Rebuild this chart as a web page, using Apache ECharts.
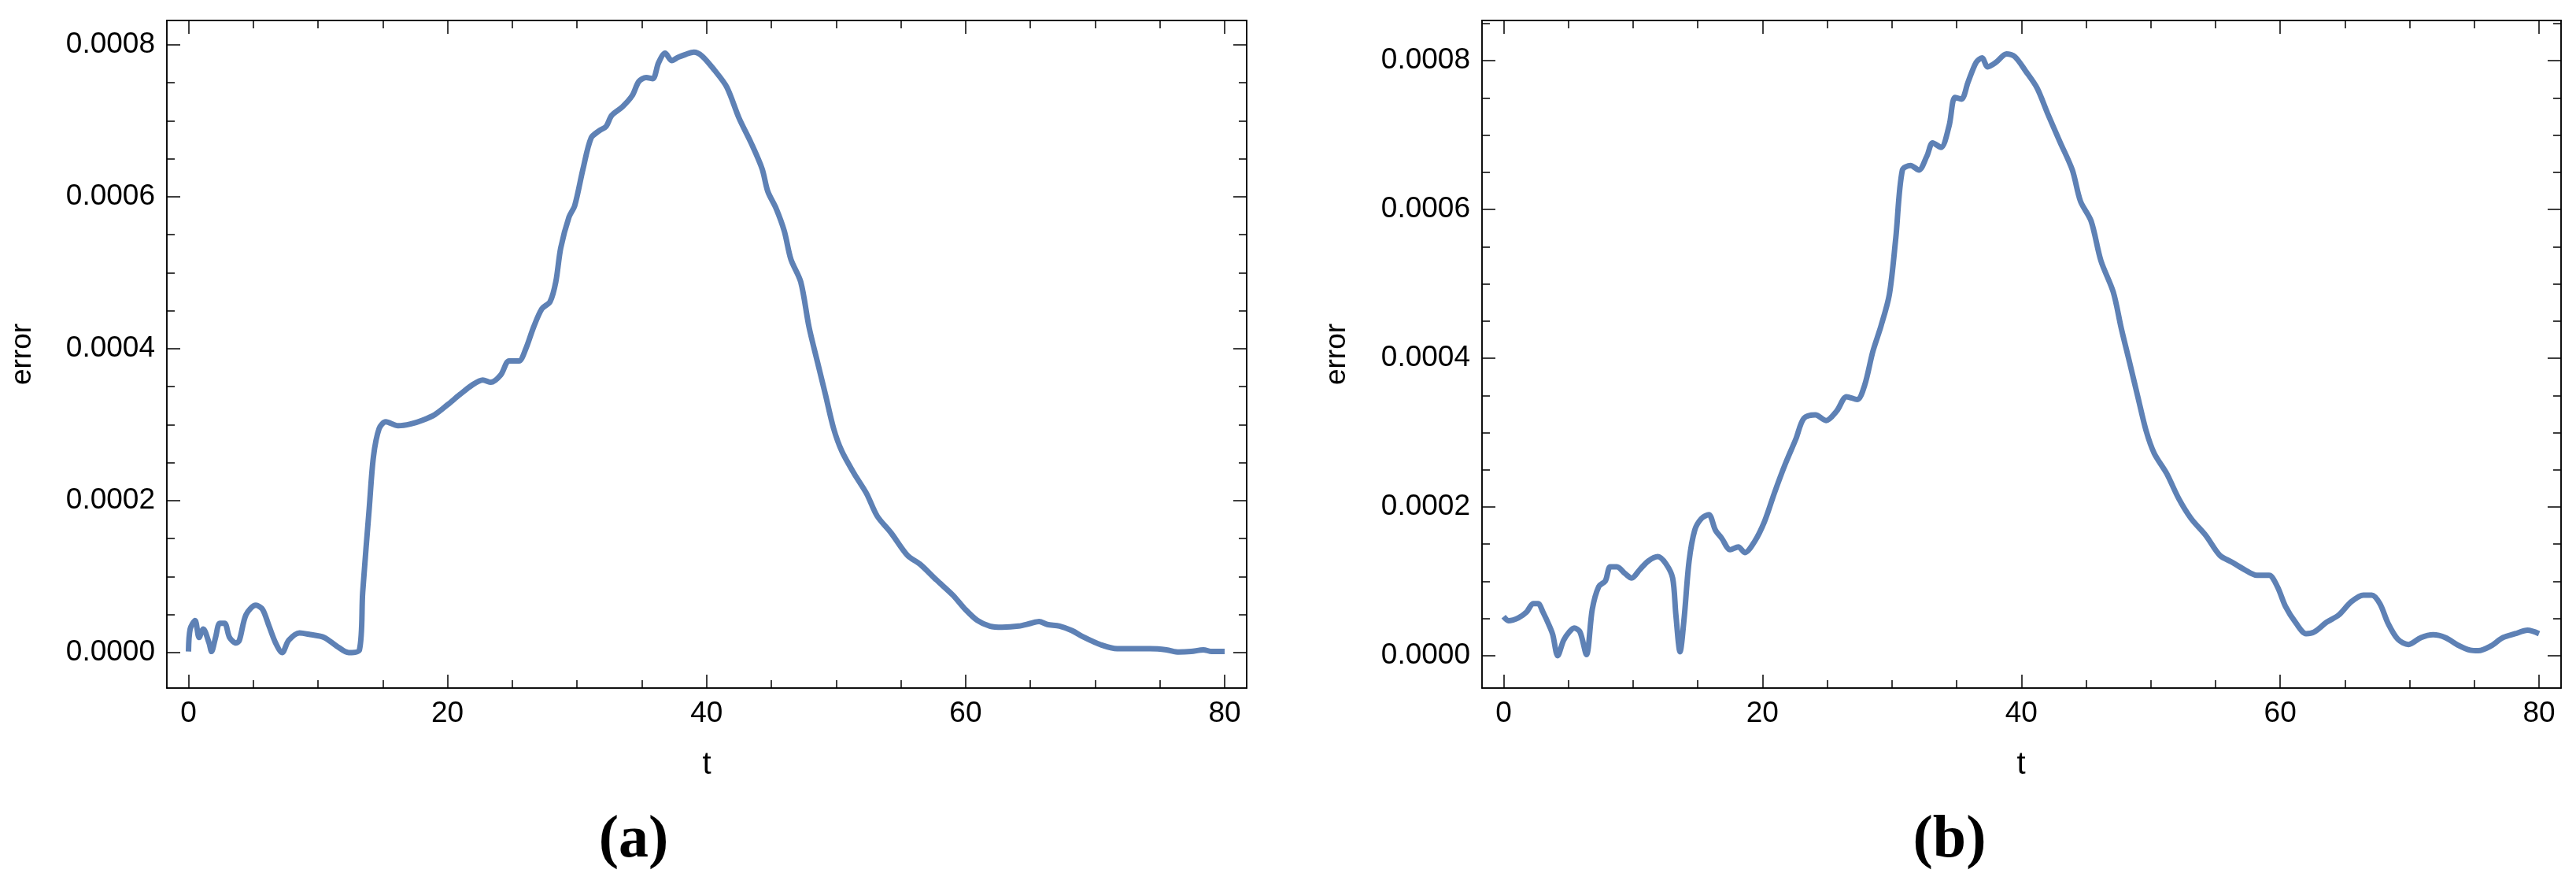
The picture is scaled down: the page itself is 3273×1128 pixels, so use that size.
<!DOCTYPE html>
<html><head><meta charset="utf-8">
<script src="https://cdn.jsdelivr.net/npm/echarts@6/dist/echarts.min.js"></script>
<style>html,body{margin:0;padding:0;background:#fff}#c{width:3273px;height:1128px}</style>
</head><body><div id="c"></div>
<script>
const tA = [0,0.13,0.51,0.82,1.14,1.59,1.78,2.09,2.41,2.79,3.17,3.68,3.93,4.44,5.20,5.71,6.22,6.73,7.23,7.74,8.57,9.39,10.47,11.42,12.37,13.20,13.45,13.96,14.28,14.72,15.23,16.18,17.13,18.08,19.04,19.99,20.94,21.89,22.72,23.35,24.11,24.75,25.51,26.02,26.65,27.28,27.92,28.36,28.74,29.38,29.82,30.46,31.09,31.73,32.23,32.68,33.50,34.26,34.77,35.34,35.85,36.29,36.80,37.31,37.82,38.39,39.02,39.66,40.61,41.56,42.51,43.46,44.29,44.73,45.37,46.00,46.51,47.27,47.91,48.54,49.18,49.81,50.44,51.40,52.35,53.17,54.25,55.52,56.47,57.74,59.01,59.96,60.91,61.87,62.82,64.09,65.04,65.67,66.31,67.26,68.21,69.16,70.43,71.70,72.97,74.24,75.51,76.46,77.41,78.36,79.0,80.0];
const errA = [0.015e-4,0.312e-4,0.423e-4,0.20e-4,0.312e-4,0.126e-4,0.015e-4,0.20e-4,0.386e-4,0.386e-4,0.20e-4,0.126e-4,0.163e-4,0.498e-4,0.624e-4,0.572e-4,0.349e-4,0.126e-4,0,0.163e-4,0.26e-4,0.238e-4,0.20e-4,0.089e-4,0,0.037e-4,0.795e-4,1.909e-4,2.578e-4,2.949e-4,3.038e-4,2.986e-4,3.008e-4,3.060e-4,3.135e-4,3.261e-4,3.395e-4,3.521e-4,3.588e-4,3.558e-4,3.655e-4,3.840e-4,3.840e-4,3.989e-4,4.286e-4,4.524e-4,4.620e-4,4.880e-4,5.326e-4,5.734e-4,5.883e-4,6.366e-4,6.774e-4,6.871e-4,6.923e-4,7.071e-4,7.183e-4,7.331e-4,7.517e-4,7.569e-4,7.554e-4,7.762e-4,7.889e-4,7.792e-4,7.837e-4,7.874e-4,7.903e-4,7.851e-4,7.666e-4,7.443e-4,7.034e-4,6.700e-4,6.366e-4,6.069e-4,5.846e-4,5.549e-4,5.177e-4,4.880e-4,4.286e-4,3.840e-4,3.395e-4,2.949e-4,2.652e-4,2.355e-4,2.095e-4,1.798e-4,1.575e-4,1.278e-4,1.166e-4,0.958e-4,0.758e-4,0.572e-4,0.423e-4,0.349e-4,0.334e-4,0.349e-4,0.386e-4,0.409e-4,0.371e-4,0.349e-4,0.290e-4,0.20e-4,0.104e-4,0.052e-4,0.052e-4,0.052e-4,0.037e-4,0.007e-4,0.015e-4,0.037e-4,0.015e-4,0.015e-4];
const tB = [0,0.38,1.14,1.77,2.28,2.66,3.04,3.55,3.80,4.18,4.63,5.07,5.45,5.90,6.40,6.85,7.35,7.86,8.24,8.75,9.38,9.89,10.52,11.16,11.92,12.55,13.06,13.31,13.63,13.95,14.33,14.77,15.28,15.85,16.36,16.86,17.50,18.13,18.64,19.40,20.16,20.92,21.74,22.57,23.20,24.09,24.91,25.74,26.50,27.32,27.89,28.53,29.16,29.80,30.30,30.81,31.44,32.08,32.71,33.15,33.79,34.42,34.87,35.37,35.88,36.51,36.96,37.40,38.04,38.86,39.50,40.32,41.21,42.03,42.98,43.94,44.57,45.39,46.15,47.10,47.73,48.37,49.00,49.64,50.27,51.22,52.17,53.12,54.26,55.34,56.29,57.24,58.19,59.14,59.78,60.41,61.24,62.00,62.63,63.58,64.53,65.48,66.43,67.07,67.70,68.34,69.10,69.92,70.87,71.82,72.77,73.72,74.68,75.31,76.26,77.21,78.16,79.11,80];
const errB = [0.526e-4,0.472e-4,0.510e-4,0.587e-4,0.701e-4,0.701e-4,0.587e-4,0.396e-4,0.282e-4,0,0.206e-4,0.320e-4,0.373e-4,0.320e-4,0.015e-4,0.625e-4,0.930e-4,1.006e-4,1.196e-4,1.196e-4,1.105e-4,1.044e-4,1.158e-4,1.272e-4,1.333e-4,1.234e-4,1.044e-4,0.549e-4,0.053e-4,0.510e-4,1.272e-4,1.691e-4,1.844e-4,1.897e-4,1.691e-4,1.577e-4,1.425e-4,1.463e-4,1.387e-4,1.539e-4,1.806e-4,2.187e-4,2.568e-4,2.910e-4,3.192e-4,3.238e-4,3.162e-4,3.291e-4,3.482e-4,3.444e-4,3.634e-4,4.091e-4,4.434e-4,4.853e-4,5.615e-4,6.530e-4,6.590e-4,6.530e-4,6.720e-4,6.895e-4,6.834e-4,7.124e-4,7.505e-4,7.482e-4,7.710e-4,7.977e-4,8.038e-4,7.916e-4,7.977e-4,8.091e-4,8.053e-4,7.863e-4,7.634e-4,7.291e-4,6.910e-4,6.530e-4,6.110e-4,5.844e-4,5.310e-4,4.891e-4,4.396e-4,3.939e-4,3.482e-4,3.025e-4,2.720e-4,2.453e-4,2.110e-4,1.844e-4,1.615e-4,1.349e-4,1.257e-4,1.158e-4,1.082e-4,1.082e-4,0.930e-4,0.663e-4,0.434e-4,0.297e-4,0.320e-4,0.450e-4,0.549e-4,0.724e-4,0.815e-4,0.815e-4,0.701e-4,0.434e-4,0.221e-4,0.152e-4,0.244e-4,0.282e-4,0.244e-4,0.145e-4,0.076e-4,0.069e-4,0.130e-4,0.244e-4,0.297e-4,0.343e-4,0.297e-4];
const xMajor = [0,20,40,60,80];
const xMinor = [5,10,15,25,30,35,45,50,55,65,70,75];
const yMajor = [0,0.0002,0.0004,0.0006,0.0008];
const yMinor = [0.00005,0.0001,0.00015,0.00025,0.0003,0.00035,0.00045,0.0005,0.00055,0.00065,0.0007,0.00075,0.00085];
const xLabels = ['0','20','40','60','80'];
const yLabels = ['0.0000','0.0002','0.0004','0.0006','0.0008'];

const FONT = 'Liberation Sans';
const lineStyle = {color:'#000', width:1.5};
function mkX(gi, pos, vals, len, labels, xmin, xmax){
  return {type:'value', gridIndex:gi, position:pos, min:xmin, max:xmax,
    axisLine:{show:true, onZero:false, lineStyle},
    axisTick:{show:true, inside:true, length:len, customValues:vals, lineStyle:{color:'#000',width:1.5}},
    axisLabel:{show:!!labels, customValues:vals, formatter:(v)=>labels?labels[xMajor.indexOf(Math.round(v))]:'', color:'#000', fontFamily:FONT, fontSize:37, margin:14},
    splitLine:{show:false}};
}
function mkY(gi, pos, vals, len, labels, ymin, ymax){
  return {type:'value', gridIndex:gi, position:pos, min:ymin, max:ymax,
    axisLine:{show:true, onZero:false, lineStyle},
    axisTick:{show:true, inside:true, length:len, customValues:vals, lineStyle:{color:'#000',width:1.5}},
    axisLabel:{show:!!labels, customValues:vals, formatter:(v)=>{if(!labels)return '';let i=yMajor.findIndex(m=>Math.abs(m-v)<1e-9);return labels[i];}, color:'#000', fontFamily:FONT, fontSize:37, margin:15},
    splitLine:{show:false}};
}
const ranges = [{ymin:-0.0000466, ymax:0.000832},{ymin:-0.0000434, ymax:0.000854}];
const xmin=-1.67, xmax=81.7;
const xAxis=[], yAxis=[];
[0,1].forEach(g=>{
  xAxis.push(mkX(g,'bottom',xMajor,17,xLabels,xmin,xmax));
  xAxis.push(mkX(g,'bottom',xMinor,10,null,xmin,xmax));
  xAxis.push(mkX(g,'top',xMajor,17,null,xmin,xmax));
  xAxis.push(mkX(g,'top',xMinor,10,null,xmin,xmax));
  const r=ranges[g];
  yAxis.push(mkY(g,'left',yMajor,17,yLabels,r.ymin,r.ymax));
  yAxis.push(mkY(g,'left',yMinor,10,null,r.ymin,r.ymax));
  yAxis.push(mkY(g,'right',yMajor,17,null,r.ymin,r.ymax));
  yAxis.push(mkY(g,'right',yMinor,10,null,r.ymin,r.ymax));
});
const pair=(t,e)=>t.map((x,i)=>[x,e[i]]);
const chart = echarts.init(document.getElementById('c'),null,{renderer:'canvas'});
chart.setOption({
  animation:false,
  grid:[{left:212, right:1689, top:26, height:848},{left:1883, right:19, top:26, height:848}],
  xAxis, yAxis,
  series:[
    {type:'line', xAxisIndex:0, yAxisIndex:0, data:pair(tA,errA), showSymbol:false, smooth:0.3, lineStyle:{color:'#5e81b5', width:7}},
    {type:'line', xAxisIndex:4, yAxisIndex:4, data:pair(tB,errB), showSymbol:false, smooth:0.3, lineStyle:{color:'#5e81b5', width:7}}
  ],
  graphic:[
    {type:'text', x:898, y:972, style:{text:'t', fontFamily:FONT, fontSize:40, fill:'#000', align:'center', verticalAlign:'middle'}},
    {type:'text', x:2568, y:972, style:{text:'t', fontFamily:FONT, fontSize:40, fill:'#000', align:'center', verticalAlign:'middle'}},
    {type:'text', x:29, y:450, rotation:Math.PI/2, style:{text:'error', fontFamily:FONT, fontSize:37, fill:'#000', align:'center', verticalAlign:'middle'}},
    {type:'text', x:1699, y:450, rotation:Math.PI/2, style:{text:'error', fontFamily:FONT, fontSize:37, fill:'#000', align:'center', verticalAlign:'middle'}},
    {type:'text', x:805, y:1068, style:{text:'(a)', fontFamily:'Liberation Serif', fontWeight:'bold', fontSize:76, fill:'#000', align:'center', verticalAlign:'middle'}},
    {type:'text', x:2477, y:1068, style:{text:'(b)', fontFamily:'Liberation Serif', fontWeight:'bold', fontSize:76, fill:'#000', align:'center', verticalAlign:'middle'}}
  ]
});
</script></body></html>
